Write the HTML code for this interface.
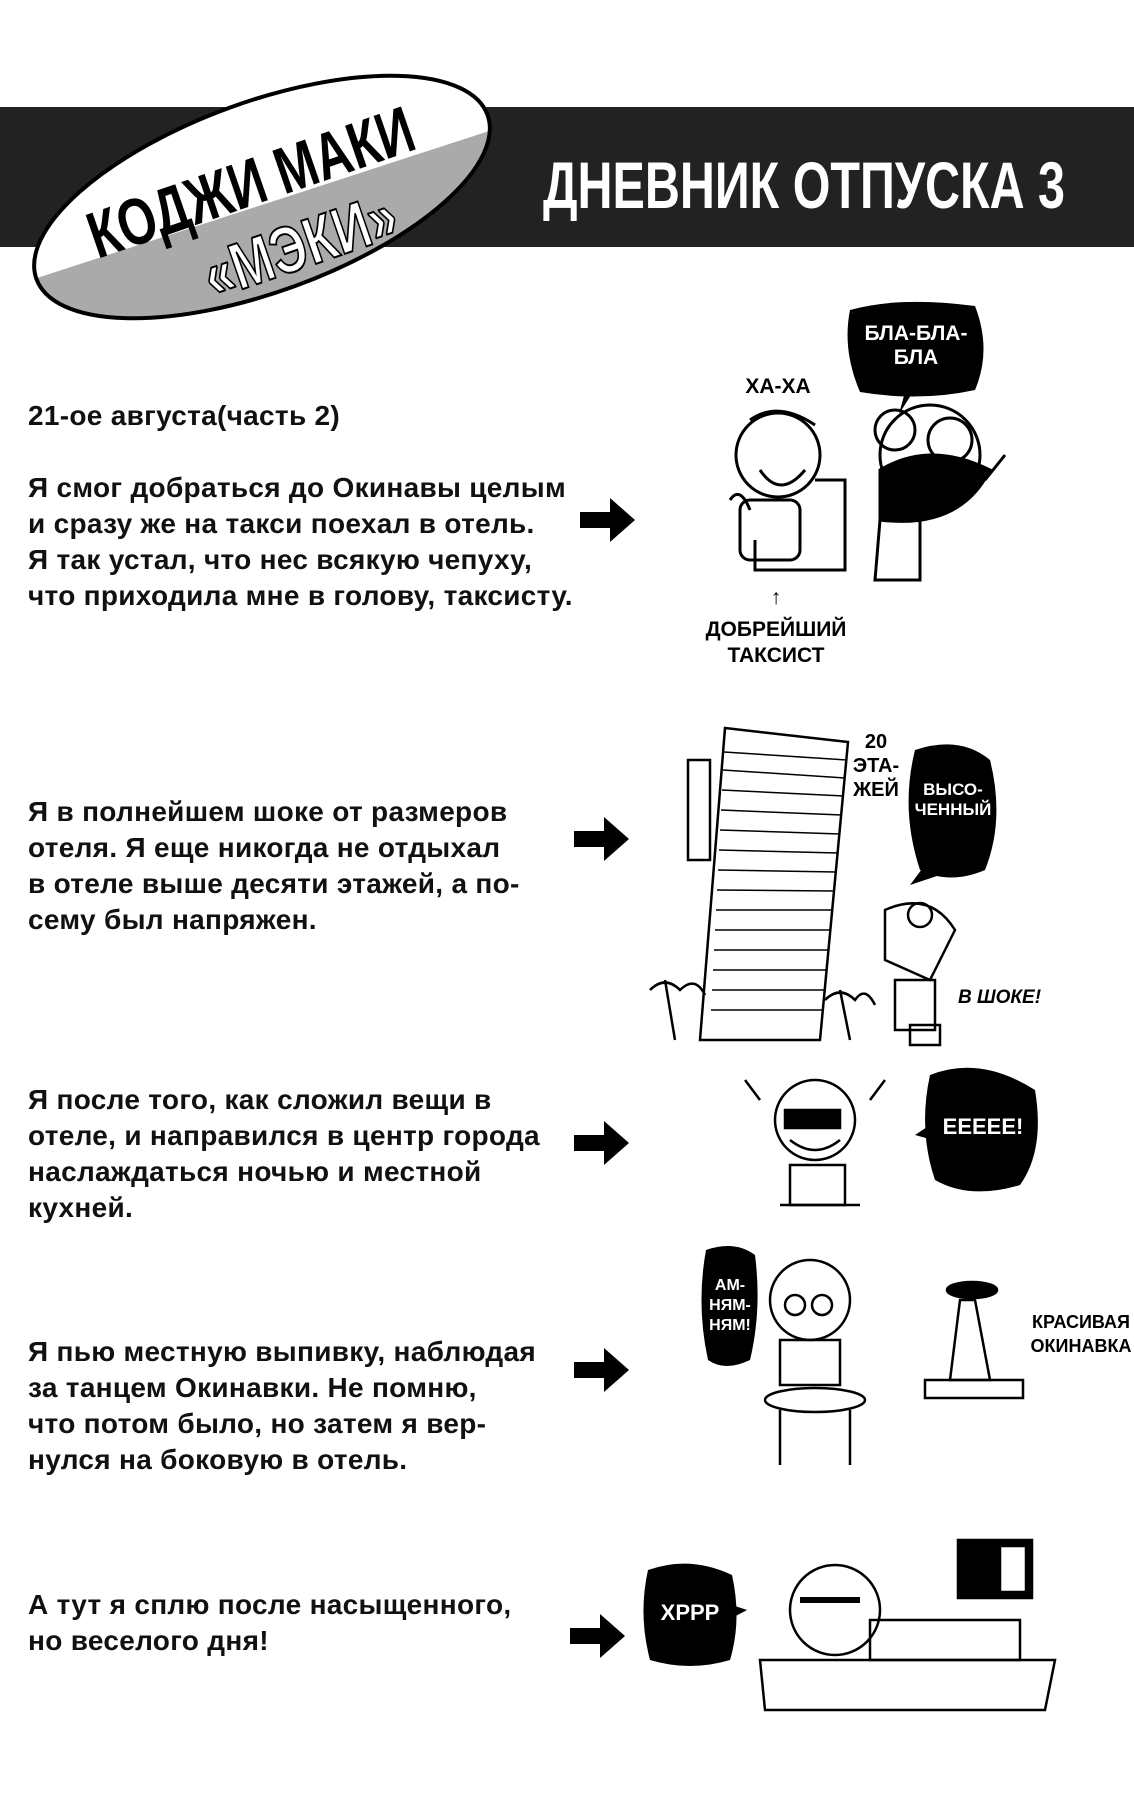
<!DOCTYPE html>
<html><head><meta charset="utf-8"><style>
html,body{margin:0;padding:0;background:#fff}
body{width:1134px;height:1800px;position:relative;overflow:hidden;font-family:"Liberation Sans",sans-serif}
.t{position:absolute;left:28px;font-weight:bold;font-size:28px;line-height:36px;color:#111;white-space:nowrap;letter-spacing:0.3px}
svg{position:absolute;left:0;top:0}
</style></head><body>
<svg width="1134" height="1800" viewBox="0 0 1134 1800" xmlns="http://www.w3.org/2000/svg" font-family="Liberation Sans, sans-serif" font-weight="bold">
<defs><clipPath id="ec"><ellipse cx="262" cy="197" rx="240" ry="95" transform="rotate(-20 262 197)"/></clipPath></defs>
<rect x="0" y="107" width="1134" height="140" fill="#222"/>
<g clip-path="url(#ec)">
<rect x="0" y="0" width="600" height="400" fill="#aaa"/>
<polygon points="0,0 600,0 600,95 0,290" fill="#fff"/>
</g>
<ellipse cx="262" cy="197" rx="240" ry="95" transform="rotate(-20 262 197)" fill="none" stroke="#000" stroke-width="4"/>
<g font-family="Liberation Sans Narrow, Liberation Sans, sans-serif" font-weight="bold">
<text x="250" y="205" font-size="66" text-anchor="middle" transform="rotate(-19 250 180)" fill="#000" textLength="340" lengthAdjust="spacingAndGlyphs">КОДЖИ МАКИ</text>
<text x="300" y="268" font-size="66" text-anchor="middle" transform="rotate(-19 300 245)" fill="#fff" stroke="#000" stroke-width="2" textLength="200" lengthAdjust="spacingAndGlyphs">«МЭКИ»</text>
<text x="543" y="208" font-size="66" fill="#fff" textLength="522" lengthAdjust="spacingAndGlyphs">ДНЕВНИК ОТПУСКА 3</text>
</g>
<g fill="#000">
<path d="M580 512h30v-14l25 22-25 22v-14h-30z"/>
<path d="M574 831h30v-14l25 22-25 22v-14h-30z"/>
<path d="M574 1135h30v-14l25 22-25 22v-14h-30z"/>
<path d="M574 1362h30v-14l25 22-25 22v-14h-30z"/>
<path d="M570 1628h30v-14l25 22-25 22v-14h-30z"/>
</g>
<path d="M850 310 Q900 296 975 306 Q992 350 975 390 Q920 402 860 392 Q842 350 850 310z" fill="#000"/>
<path d="M905 392 l-6 22 l14 -22z" fill="#000"/>
<text x="916" y="340" font-size="21" fill="#fff" text-anchor="middle">БЛА-БЛА-</text>
<text x="916" y="364" font-size="21" fill="#fff" text-anchor="middle">БЛА</text>
<text x="778" y="393" font-size="21" text-anchor="middle">ХА-ХА</text>
<g fill="none" stroke="#000" stroke-width="3">
<circle cx="778" cy="455" r="42"/><path d="M750 420 Q778 400 815 425"/>
<path d="M760 470 Q780 500 805 470"/>
<path d="M815 480 h30 v90 h-90 v-30"/>
<rect x="740" y="500" width="60" height="60" rx="10"/>
<path d="M730 500 Q740 485 750 510"/>
<circle cx="930" cy="455" r="50"/>
<circle cx="895" cy="430" r="20"/><circle cx="950" cy="440" r="22"/>
<path d="M880 470 Q930 440 990 470 Q960 530 880 520z" fill="#000"/>
<path d="M880 520 h40 v60 h-45 z"/><path d="M985 480 l20 -25"/>
</g>
<text x="776" y="604" font-size="21" text-anchor="middle">↑</text>
<text x="776" y="636" font-size="21" text-anchor="middle">ДОБРЕЙШИЙ</text>
<text x="776" y="662" font-size="21" text-anchor="middle">ТАКСИСТ</text>
<g fill="none" stroke="#000" stroke-width="2.5">
<path d="M725 728 L848 742 L820 1040 L700 1040 z"/>
<path d="M688 760 h22 v100 h-22z"/>
</g>
<g stroke="#000" stroke-width="1.5">
<line x1="724" y1="752" x2="847" y2="760"/><line x1="723" y1="770" x2="845" y2="778"/>
<line x1="722" y1="790" x2="844" y2="796"/><line x1="721" y1="810" x2="842" y2="815"/>
<line x1="720" y1="830" x2="840" y2="834"/><line x1="719" y1="850" x2="838" y2="853"/>
<line x1="718" y1="870" x2="836" y2="872"/><line x1="717" y1="890" x2="834" y2="891"/>
<line x1="716" y1="910" x2="832" y2="910"/><line x1="715" y1="930" x2="830" y2="930"/>
<line x1="714" y1="950" x2="828" y2="950"/><line x1="713" y1="970" x2="826" y2="970"/>
<line x1="712" y1="990" x2="824" y2="990"/><line x1="711" y1="1010" x2="822" y2="1010"/>
</g>
<text x="876" y="748" font-size="20" text-anchor="middle">20</text>
<text x="876" y="772" font-size="20" text-anchor="middle">ЭТА-</text>
<text x="876" y="796" font-size="20" text-anchor="middle">ЖЕЙ</text>
<path d="M915 750 Q960 735 990 760 Q1005 820 985 870 Q950 885 920 870 Q900 810 915 750z" fill="#000"/>
<path d="M925 865 l-15 20 l30 -10z" fill="#000"/>
<text x="953" y="795" font-size="17" fill="#fff" text-anchor="middle">ВЫСО-</text>
<text x="953" y="815" font-size="17" fill="#fff" text-anchor="middle">ЧЕННЫЙ</text>
<g fill="none" stroke="#000" stroke-width="2.5">
<circle cx="920" cy="915" r="12"/><path d="M885 910 Q930 890 955 930 L930 980 L885 960z"/>
<path d="M895 980 h40 v50 h-40z"/><rect x="910" y="1025" width="30" height="20"/>
<path d="M665 980 l10 60 M650 990 q15 -15 30 0 q15 -15 25 5"/>
<path d="M840 990 l10 50 M825 1000 q15 -15 30 0 q10 -15 20 5"/>
</g>
<text x="958" y="1003" font-size="19" font-style="italic">В ШОКЕ!</text>
<path d="M930 1075 Q980 1055 1035 1090 Q1045 1150 1020 1185 Q970 1200 935 1180 Q918 1130 930 1075z" fill="#000"/>
<path d="M930 1125 l-15 10 l18 5z" fill="#000"/>
<text x="983" y="1134" font-size="22" fill="#fff" text-anchor="middle">ЕЕЕЕЕ!</text>
<g fill="none" stroke="#000" stroke-width="2.5">
<circle cx="815" cy="1120" r="40"/><rect x="785" y="1110" width="55" height="18" fill="#000"/>
<path d="M790 1140 q25 20 50 0"/><path d="M760 1100 l-15 -20 M870 1100 l15 -20"/>
<path d="M790 1165 h55 v40 h-55z"/><path d="M780 1205 h80"/>
</g>
<path d="M706 1250 Q735 1240 755 1255 Q762 1310 750 1360 Q725 1372 708 1360 Q696 1305 706 1250z" fill="#000"/>
<text x="730" y="1290" font-size="16" fill="#fff" text-anchor="middle">АМ-</text>
<text x="730" y="1310" font-size="16" fill="#fff" text-anchor="middle">НЯМ-</text>
<text x="730" y="1330" font-size="16" fill="#fff" text-anchor="middle">НЯМ!</text>
<g fill="none" stroke="#000" stroke-width="2.5">
<circle cx="810" cy="1300" r="40"/><circle cx="795" cy="1305" r="10"/><circle cx="822" cy="1305" r="10"/>
<path d="M780 1340 h60 v45 h-60z"/>
<ellipse cx="815" cy="1400" rx="50" ry="12"/><path d="M780 1410 v55 M850 1410 v55"/>
<ellipse cx="972" cy="1290" rx="25" ry="8" fill="#000"/><path d="M960 1300 l-10 80 l40 0 l-15 -80z"/>
<rect x="925" y="1380" width="98" height="18"/>
</g>
<text x="1081" y="1328" font-size="18" text-anchor="middle">КРАСИВАЯ</text>
<text x="1081" y="1352" font-size="18" text-anchor="middle">ОКИНАВКА</text>
<path d="M648 1570 Q690 1555 732 1575 Q742 1620 730 1660 Q690 1672 650 1660 Q638 1615 648 1570z" fill="#000"/>
<path d="M732 1605 l15 5 l-15 8z" fill="#000"/>
<text x="690" y="1620" font-size="22" fill="#fff" text-anchor="middle">ХРРР</text>
<g fill="none" stroke="#000" stroke-width="2.5">
<rect x="958" y="1540" width="74" height="58" fill="#000"/><rect x="1000" y="1546" width="26" height="46" fill="#fff"/>
<circle cx="835" cy="1610" r="45"/><path d="M800 1600 h60" stroke-width="6"/>
<path d="M870 1620 h150 v40 h-150z"/>
<path d="M760 1660 h295 l-10 50 h-280z"/>
</g>
</svg>
<div class="t" style="top:398px">21-ое августа(часть 2)</div>
<div class="t" style="top:470px">Я смог добраться до Окинавы целым<br>и сразу же на такси поехал в отель.<br>Я так устал, что нес всякую чепуху,<br>что приходила мне в голову, таксисту.</div>
<div class="t" style="top:794px">Я в полнейшем шоке от размеров<br>отеля. Я еще никогда не отдыхал<br>в отеле выше десяти этажей, а по-<br>сему был напряжен.</div>
<div class="t" style="top:1082px">Я после того, как сложил вещи в<br>отеле, и направился в центр города<br>наслаждаться ночью и местной<br>кухней.</div>
<div class="t" style="top:1334px">Я пью местную выпивку, наблюдая<br>за танцем Окинавки. Не помню,<br>что потом было, но затем я вер-<br>нулся на боковую в отель.</div>
<div class="t" style="top:1587px">А тут я сплю после насыщенного,<br>но веселого дня!</div>
</body></html>
